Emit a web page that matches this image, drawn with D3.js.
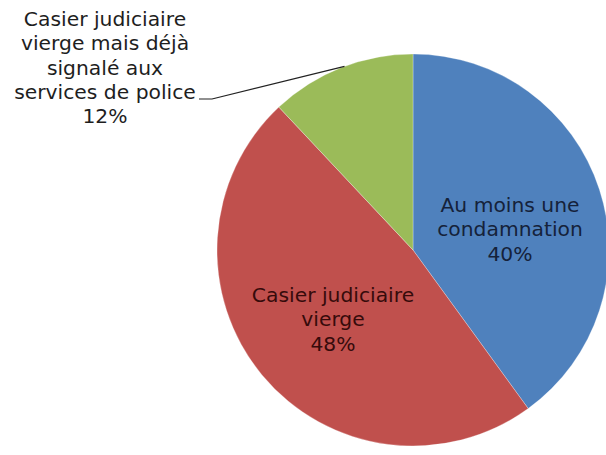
<!DOCTYPE html>
<html>
<head>
<meta charset="utf-8">
<script src="https://cdn.jsdelivr.net/npm/d3@7"></script>
<style>
  html, body { margin: 0; padding: 0; background: #ffffff; }
  svg { display: block; }
  text { font-family: "DejaVu Sans", Verdana, sans-serif; }
</style>
</head>
<body>
<svg id="chart" width="606" height="455"></svg>
<script>
// ---- data ----
const categories = [
  "Au moins une condamnation",
  "Casier judiciaire vierge",
  "Casier judiciaire vierge mais déjà signalé aux services de police"
];
const values = [40, 48, 12];
const labelLines = [
  ["Au moins une", "condamnation"],
  ["Casier judiciaire", "vierge"],
  ["Casier judiciaire", "vierge mais déjà", "signalé aux", "services de police"]
];
const percentLabels = ["40%", "48%", "12%"];

// ---- layout & style ----
const W = 606, H = 455;
const cx = 413, cy = 250, R = 196;
const colors = ["#4F81BD", "#C0504D", "#9BBB59"];
const textColors = ["#15223a", "#360b0b", "#1e1e1e"];
const fontSize = 20.3, lineH = 24.3;
// label block anchor (center x, first baseline y)
const labelPos = [
  { x: 510, y: 212 },
  { x: 333, y: 302 },
  { x: 105, y: 26 }
];

const svg = d3.select("#chart");
const g = svg.append("g").attr("transform", `translate(${cx},${cy})`);

const pie = d3.pie().sort(null).startAngle(0).endAngle(2 * Math.PI);
const arcs = pie(values);
const arc = d3.arc().innerRadius(0).outerRadius(R);

g.selectAll("path.slice")
  .data(arcs)
  .join("path")
  .attr("class", "slice")
  .attr("d", arc)
  .attr("fill", (d, i) => colors[i])
  .attr("stroke", "rgba(255,255,255,0.4)")
  .attr("stroke-width", 0.7);

// leader line for the small slice
const small = arcs[2];
const midA = (small.startAngle + small.endAngle) / 2 + 0.02;
const endPt = [cx + Math.sin(midA) * R, cy - Math.cos(midA) * R];
svg.append("path")
  .attr("d", d3.line()([[199, 99], [212, 99], endPt]))
  .attr("fill", "none")
  .attr("stroke", "#222")
  .attr("stroke-width", 1.2);

// labels
labelLines.forEach((lines, i) => {
  const all = lines.concat([percentLabels[i]]);
  const t = svg.append("text")
    .attr("text-anchor", "middle")
    .attr("font-size", fontSize)
    .attr("fill", textColors[i]);
  all.forEach((ln, k) => {
    t.append("tspan")
      .attr("x", labelPos[i].x)
      .attr("y", labelPos[i].y + k * lineH)
      .text(ln);
  });
});
</script>
</body>
</html>
